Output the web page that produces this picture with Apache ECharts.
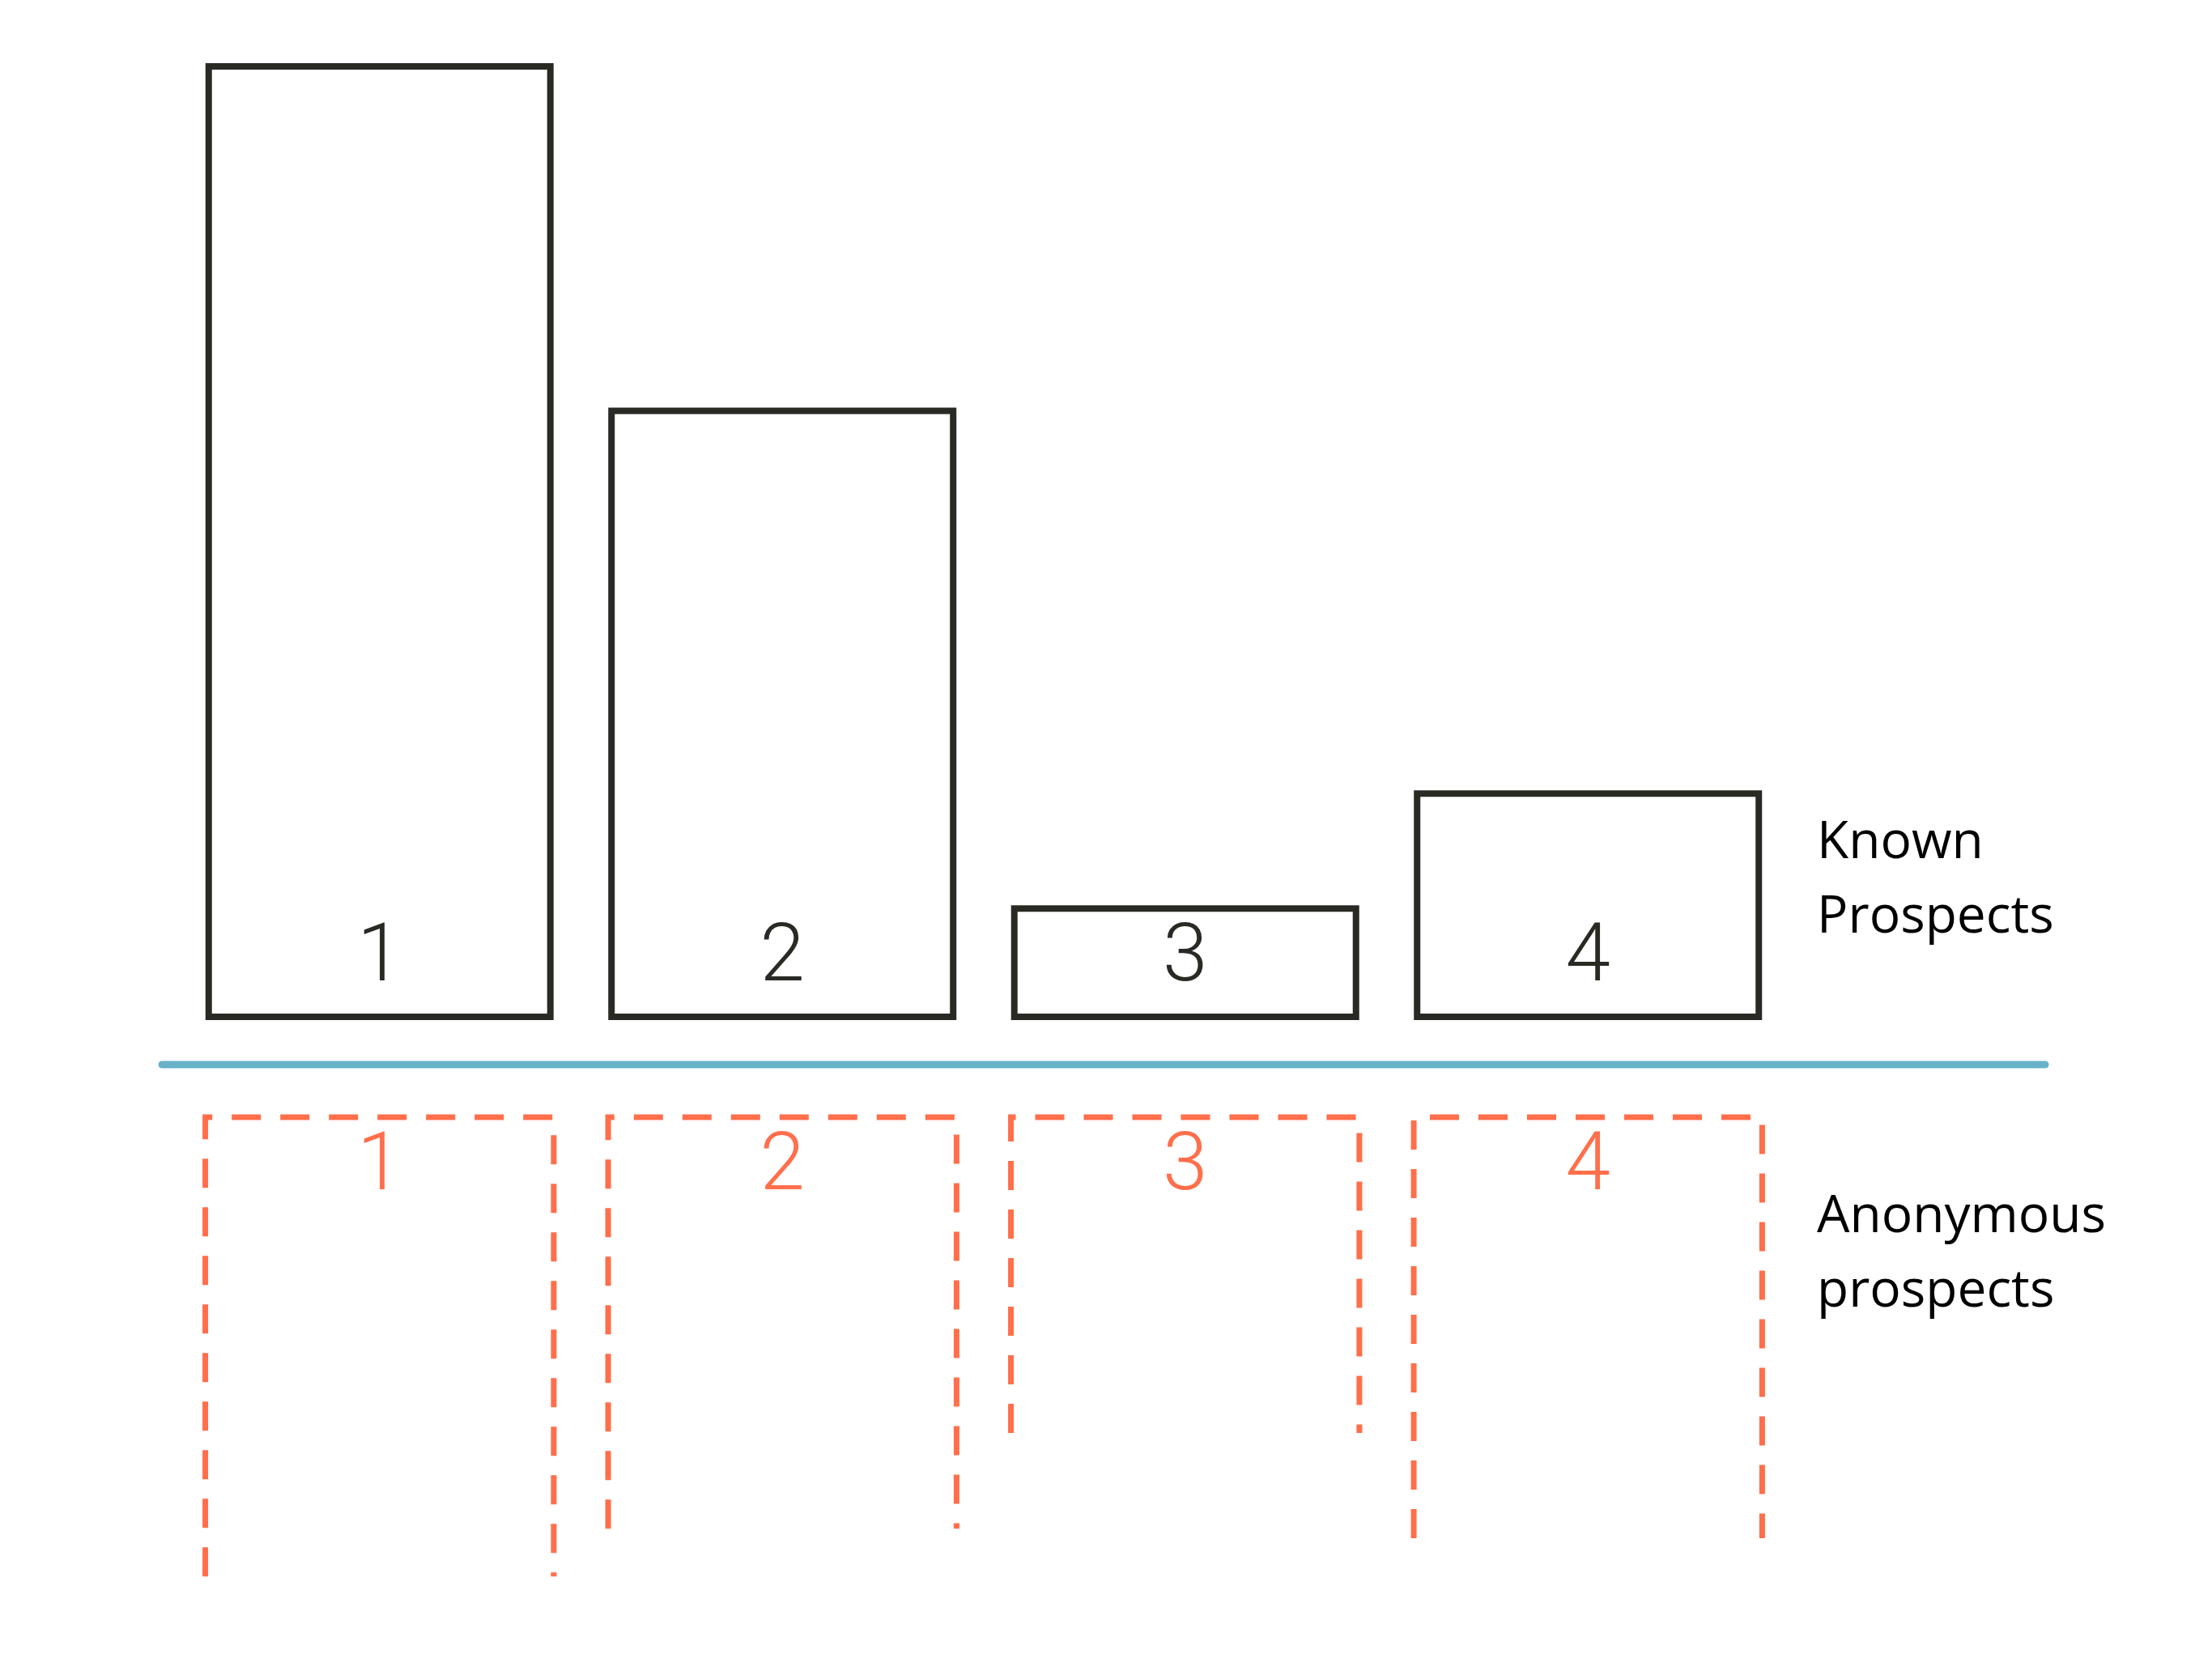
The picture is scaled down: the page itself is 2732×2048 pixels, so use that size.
<!DOCTYPE html>
<html>
<head>
<meta charset="utf-8">
<script src="https://cdn.jsdelivr.net/npm/echarts@6/dist/echarts.min.js"></script>
<style>
  html, body { margin: 0; padding: 0; background: #fff; }
  #chart { width: 2732px; height: 2048px; }
</style>
</head>
<body>
<div id="chart"></div>
<script>
// stages 1..4
var categories = ['1', '2', '3', '4'];
// known prospects (upper boxes)
var knownValues = [100, 64, 12, 24];
// anonymous prospects (lower dashed boxes, hang downwards)
var anonValues = [48, 43, 33, 44];

var ink = '#2a2a25';
var orange = '#ff6f4b';
var teal = '#68b3c9';

var myChart = echarts.init(document.getElementById('chart'));

var option = {
    backgroundColor: '#fff',
    animation: false,
    grid: [
        {left: 220, width: 1990, top: 78, height: 1182},
        {left: 220, width: 1990, top: 1380, height: 591}
    ],
    xAxis: [
        {
            type: 'category', gridIndex: 0, data: categories,
            axisLine: {show: false}, axisTick: {show: false}, axisLabel: {show: false}
        },
        {
            type: 'category', gridIndex: 1, data: categories,
            axisLine: {show: false}, axisTick: {show: false}, axisLabel: {show: false}
        }
    ],
    yAxis: [
        {
            type: 'value', gridIndex: 0, min: 0, max: 100,
            axisLine: {show: false}, axisTick: {show: false}, axisLabel: {show: false},
            splitLine: {show: false}
        },
        {
            type: 'value', gridIndex: 1, min: 0, max: 50, inverse: true,
            axisLine: {show: false}, axisTick: {show: false}, axisLabel: {show: false},
            splitLine: {show: false}
        }
    ],
    series: [
        {
            name: 'Known Prospects',
            type: 'bar',
            xAxisIndex: 0,
            yAxisIndex: 0,
            barWidth: 430,
            data: knownValues,
            itemStyle: {
                color: 'rgba(255,255,255,0)',
                borderColor: ink,
                borderWidth: 8
            },
            label: {
                show: true,
                position: 'insideBottom',
                distance: 24,
                formatter: function (p) { return categories[p.dataIndex]; },
                fontFamily: 'Roboto',
                fontWeight: 300,
                fontSize: 100,
                color: ink
            }
        },
        {
            name: 'Anonymous prospects',
            type: 'custom',
            xAxisIndex: 1,
            yAxisIndex: 1,
            data: anonValues.map(function (v, i) { return [i, v]; }),
            renderItem: function (params, api) {
                var top = api.coord([api.value(0), 0]);
                var bottom = api.coord([api.value(0), api.value(1)]);
                var w = api.size([1, 0])[0] * 0.865;
                var x0 = top[0] - w / 2;
                var x1 = top[0] + w / 2;
                return {
                    type: 'group',
                    children: [
                        {
                            type: 'polyline',
                            shape: {points: [[x0, bottom[1]], [x0, top[1]], [x1, top[1]], [x1, bottom[1]]]},
                            style: {
                                fill: 'none',
                                stroke: orange,
                                lineWidth: 7,
                                lineDash: [36, 24]
                            }
                        },
                        {
                            type: 'text',
                            style: {
                                text: categories[params.dataIndex],
                                x: top[0],
                                y: top[1] + 14,
                                align: 'center',
                                verticalAlign: 'top',
                                fontFamily: 'Roboto',
                                fontWeight: 300,
                                fontSize: 100,
                                fill: orange
                            }
                        }
                    ]
                };
            }
        }
    ],
    graphic: [
        {
            type: 'line',
            shape: {x1: 200, y1: 1315, x2: 2526, y2: 1315},
            style: {stroke: teal, lineWidth: 9, lineCap: 'round'}
        },
        {
            type: 'text',
            left: 2244,
            top: 996,
            style: {
                text: 'Known\nProspects',
                font: '64px "Open Sans"',
                lineHeight: 92,
                fill: '#000'
            }
        },
        {
            type: 'text',
            left: 2244,
            top: 1458,
            style: {
                text: 'Anonymous\nprospects',
                font: '64px "Open Sans"',
                lineHeight: 92,
                fill: '#000'
            }
        }
    ]
};

myChart.setOption(option);
</script>
</body>
</html>
